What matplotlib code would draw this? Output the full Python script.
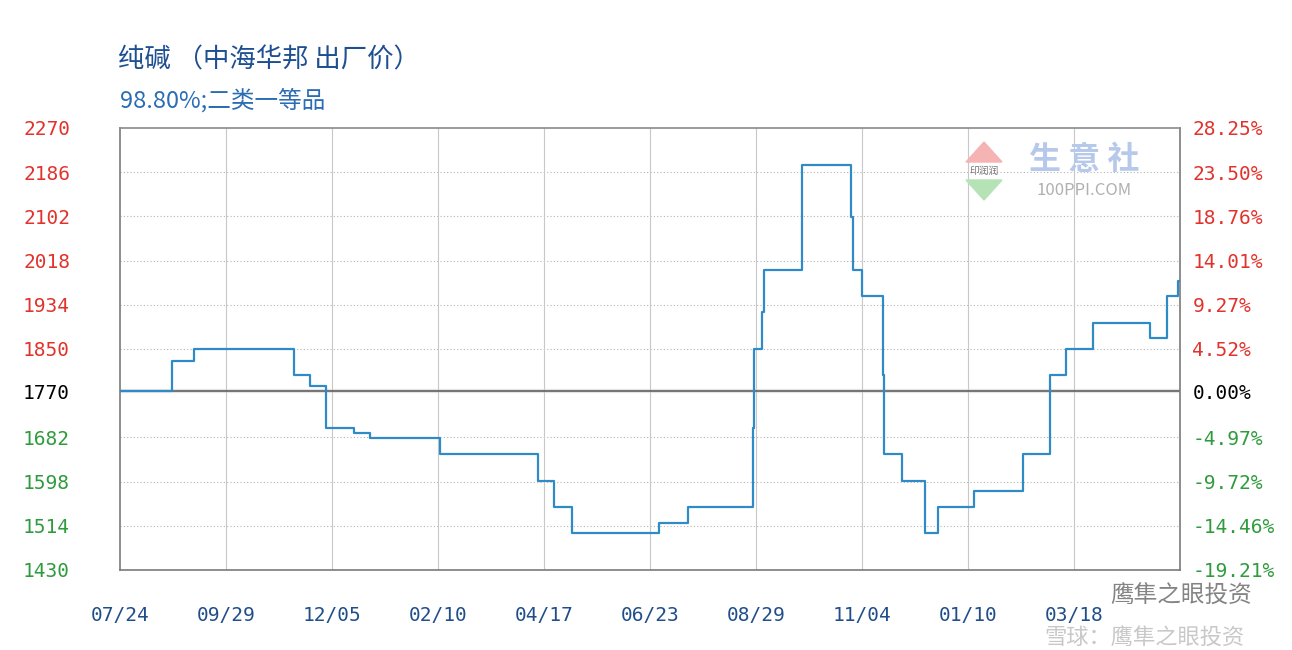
import matplotlib.pyplot as plt
import pandas as pd
from matplotlib.patches import Polygon

plt.rcParams['font.family'] = ['Noto Sans CJK SC', 'DejaVu Sans']

# 价格变动日期与价格（阶梯线）
change_dates = ['2019-07-24', '2019-08-26', '2019-09-09', '2019-11-11', '2019-11-21',
                '2019-12-01', '2019-12-19', '2019-12-29', '2020-02-11', '2020-04-13',
                '2020-04-23', '2020-05-05', '2020-06-29', '2020-07-17', '2020-08-27',
                '2020-08-28', '2020-09-02', '2020-09-03', '2020-09-27', '2020-10-28',
                '2020-10-29', '2020-11-04', '2020-11-17', '2020-11-18', '2020-11-29',
                '2020-12-14', '2020-12-22', '2021-01-14', '2021-02-14', '2021-03-03',
                '2021-03-13', '2021-03-30', '2021-05-05', '2021-05-16', '2021-05-23']
prices = [1770, 1828, 1850, 1800, 1780,
          1700, 1690, 1680, 1650, 1600,
          1550, 1500, 1520, 1550, 1700,
          1850, 1920, 2000, 2200, 2100,
          2000, 1950, 1800, 1650, 1600,
          1500, 1550, 1580, 1650, 1800,
          1850, 1900, 1870, 1950, 1980]
end_date = '2021-05-24'
base_price = 1770

price_ticks = [2270, 2186, 2102, 2018, 1934, 1850, 1770, 1682, 1598, 1514, 1430]
tick_dates = ['2019-07-24', '2019-09-29', '2019-12-05', '2020-02-10', '2020-04-17',
              '2020-06-23', '2020-08-29', '2020-11-04', '2021-01-10', '2021-03-18']
tick_labels = ['07/24', '09/29', '12/05', '02/10', '04/17',
               '06/23', '08/29', '11/04', '01/10', '03/18']

dates = pd.to_datetime(change_dates + [end_date])
values = prices + [prices[-1]]

RED = '#e2322c'
GREEN = '#2e9b3c'
mono = ['DejaVu Sans Mono']

fig = plt.figure(figsize=(12.92, 6.5), dpi=100)
ax = fig.add_axes([0.0929, 0.1231, 0.8204, 0.68])

ax.plot(dates, values, drawstyle='steps-post', color='#2f8bc6', lw=1.6, zorder=3)

ax.set_xlim(pd.Timestamp(change_dates[0]), pd.Timestamp(end_date))
ax.set_ylim(price_ticks[-1], price_ticks[0])

# 网格
for p in price_ticks[1:-1]:
    if p == base_price:
        ax.axhline(p, color='#e4e4e4', lw=3, zorder=1)
        ax.axhline(p, color='#555555', lw=1.1, zorder=2)
    else:
        ax.axhline(p, color='#b5b5b5', lw=0.8, ls=(0, (1, 2)), zorder=1)
for d in tick_dates[1:]:
    ax.axvline(pd.Timestamp(d), color='#c8c8c8', lw=0.8, zorder=1)

for side in ['left', 'right', 'bottom']:
    ax.spines[side].set_color('#7a7a7a')
    ax.spines[side].set_linewidth(1.2)
ax.spines['top'].set_color('#8a8a8a')
ax.spines['top'].set_linestyle((0, (1, 1)))
ax.spines['top'].set_linewidth(1.2)

ax.set_xticks(pd.to_datetime(tick_dates))
ax.set_xticklabels(tick_labels, family=mono, fontsize=14, color='#1f4e8a')
ax.tick_params(axis='x', length=0, pad=26)

ax.set_yticks(price_ticks)
ax.set_yticklabels([str(p) for p in price_ticks], family=mono, fontsize=14)
ax.tick_params(axis='y', length=0, pad=36)


def label_color(p):
    if p > base_price:
        return RED
    if p < base_price:
        return GREEN
    return 'black'


for lab, p in zip(ax.get_yticklabels(), price_ticks):
    lab.set_color(label_color(p))

ax2 = ax.twinx()
ax2.set_ylim(ax.get_ylim())
ax2.set_yticks(price_ticks)
ax2.set_yticklabels(['%.2f%%' % ((p / base_price - 1) * 100) for p in price_ticks],
                    family=mono, fontsize=14)
ax2.tick_params(axis='y', length=0, pad=9)
for lab, p in zip(ax2.get_yticklabels(), price_ticks):
    lab.set_color(label_color(p))
for s in ax2.spines.values():
    s.set_visible(False)

# 标题
fig.text(118 / 1292, 1 - 60 / 650, '纯碱 （中海华邦 出厂价）', fontsize=19,
         color='#1d4f91', va='center', ha='left')
fig.text(120 / 1292, 1 - 100 / 650, '98.80%;二类一等品', fontsize=17,
         color='#2a6db5', va='center', ha='left')

# 生意社水印
fig.patches.append(Polygon([[966 / 1292, 1 - 162 / 650], [1002 / 1292, 1 - 162 / 650],
                            [984 / 1292, 1 - 142 / 650]], closed=True,
                           transform=fig.transFigure, color='#f5b3b3', zorder=5))
fig.patches.append(Polygon([[966 / 1292, 1 - 180 / 650], [1002 / 1292, 1 - 180 / 650],
                            [984 / 1292, 1 - 200 / 650]], closed=True,
                           transform=fig.transFigure, color='#b5e3b5', zorder=5))
fig.text(984 / 1292, 1 - 171 / 650, '印润润', fontsize=7, color='#777777',
         ha='center', va='center')
fig.text(1084 / 1292, 1 - 160 / 650, '生 意 社', fontsize=23, color='#b7c9ea',
         ha='center', va='center', fontweight='bold')
fig.text(1084 / 1292, 1 - 190 / 650, '100PPI.COM', fontsize=12, color='#b0b0b0',
         ha='center', va='center')

# 雪球水印
fig.text(1245 / 1292, 1 - 638 / 650, '雪球：鹰隼之眼投资', fontsize=16, color='#bbbbbb',
         ha='right', va='center', alpha=0.8)
fig.text(1252 / 1292, 1 - 596 / 650, '鹰隼之眼投资', fontsize=17, color='#333333',
         ha='right', va='center', alpha=0.6)

fig.savefig('out.png', dpi=100)
